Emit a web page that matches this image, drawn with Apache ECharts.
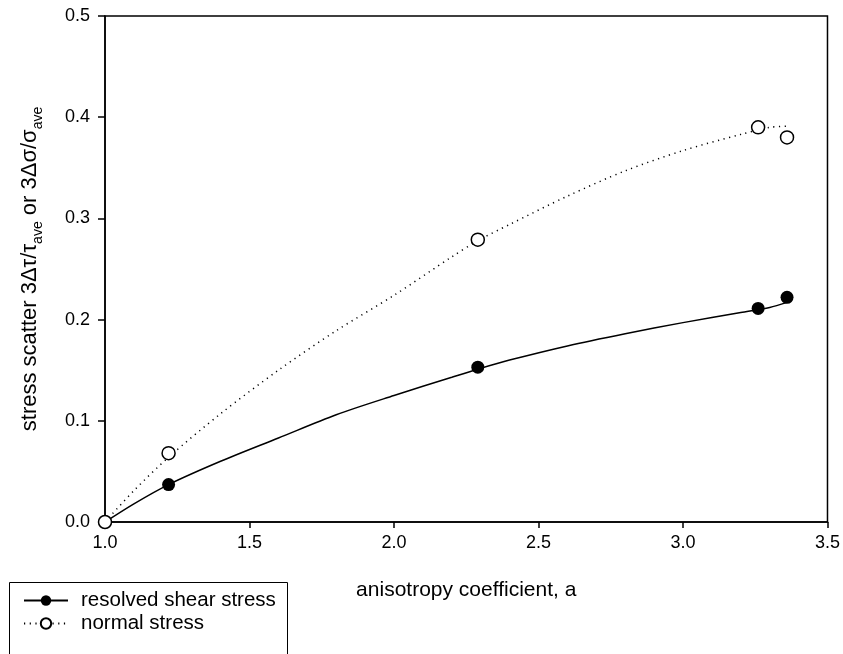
<!DOCTYPE html>
<html lang="en">
<head>
    <meta charset="UTF-8">
    <title>stress scatter</title>
    <script src="https://cdn.jsdelivr.net/npm/echarts@6.0.0/dist/echarts.min.js"></script>
    <style>
        html, body { margin: 0; padding: 0; background: #fff; }
        #chart { width: 843px; height: 654px; }
    </style>
</head>
<body>
<div id="chart"></div>
<script>
    // measured points
    var pointX = [1.0, 1.22, 2.29, 3.26, 3.36];
    var shearY = [0.0, 0.037, 0.153, 0.211, 0.222];
    var normalY = [0.0, 0.068, 0.279, 0.390, 0.380];

    // fitted curves
    var curveX = [1.0, 1.1, 1.22, 1.4, 1.6, 1.8, 2.0, 2.2, 2.29, 2.4, 2.6, 2.8, 3.0, 3.2, 3.3, 3.36];
    var shearCurveY = [0.0, 0.018, 0.037, 0.060, 0.083, 0.106, 0.125, 0.143, 0.151, 0.160, 0.174, 0.186, 0.197, 0.207, 0.212, 0.217];
    var normalCurveY = [0.0, 0.031, 0.064, 0.107, 0.150, 0.189, 0.224, 0.262, 0.278, 0.294, 0.322, 0.347, 0.367, 0.383, 0.390, 0.391];

    var xTicks = [1.0, 1.5, 2.0, 2.5, 3.0, 3.5];
    var yTicks = [0.0, 0.1, 0.2, 0.3, 0.4, 0.5];

    function pairs(xs, ys) {
        var out = [];
        for (var i = 0; i < xs.length; i++) {
            out.push([xs[i], ys[i]]);
        }
        return out;
    }

    var chart = echarts.init(document.getElementById('chart'));
    var font = 'Liberation Sans, Arial, sans-serif';

    var option = {
        animation: false,
        textStyle: { fontFamily: font, color: '#000' },
        grid: {
            left: 105, right: 15, top: 16, bottom: 132,
            show: true, borderColor: '#000', borderWidth: 1.5, backgroundColor: 'transparent'
        },
        // legend frame, runs off the bottom edge like the original
        graphic: [{
            type: 'rect', left: 7, top: 580,
            shape: { width: 278, height: 100 },
            style: { fill: 'none', stroke: '#000', lineWidth: 1 },
            silent: true
        }],
        legend: {
            data: ['resolved shear stress', 'normal stress'],
            orient: 'vertical',
            left: 7, top: 580,
            padding: [10, 5, 5, 16],
            itemWidth: 44, itemHeight: 13, itemGap: 2,
            textStyle: { fontSize: 20.5, color: '#000', fontFamily: font, padding: [0, 0, 0, 8] }
        },
        xAxis: {
            type: 'value', min: 1, max: 3.5, interval: 0.5,
            name: 'anisotropy coefficient, a',
            nameLocation: 'middle', nameGap: 58,
            nameTextStyle: { fontSize: 21, color: '#000', fontFamily: font },
            axisLine: { lineStyle: { color: '#000', width: 1.5 } },
            axisTick: { show: true, inside: false, length: 6, lineStyle: { color: '#000', width: 1.5 } },
            axisLabel: {
                fontSize: 18, color: '#000', margin: 12,
                formatter: function (v) { return xTicks.indexOf(v) >= 0 ? v.toFixed(1) : ''; }
            },
            splitLine: { show: false }
        },
        yAxis: {
            type: 'value', min: 0, max: 0.5, interval: 0.1,
            name: 'stress scatter 3\u0394\u03c4/\u03c4{s|ave} or 3\u0394\u03c3/\u03c3{s|ave}',
            nameLocation: 'middle', nameGap: 60,
            nameTextStyle: {
                fontSize: 22, color: '#000', fontFamily: font, lineHeight: 30,
                rich: {
                    s: { fontSize: 14, lineHeight: 14, verticalAlign: 'bottom', color: '#000', fontFamily: font }
                }
            },
            axisLine: { lineStyle: { color: '#000', width: 1.5 } },
            axisTick: { show: true, inside: false, length: 7, lineStyle: { color: '#000', width: 1.5 } },
            axisLabel: {
                fontSize: 18, color: '#000', margin: 15,
                formatter: function (v) {
                    for (var i = 0; i < yTicks.length; i++) {
                        if (Math.abs(yTicks[i] - v) < 1e-9) return yTicks[i].toFixed(1);
                    }
                    return '';
                }
            },
            splitLine: { show: false }
        },
        series: [
            {
                name: 'resolved shear stress',
                type: 'line',
                smooth: 0.3,
                showSymbol: false,
                symbol: 'circle', symbolSize: 12,
                itemStyle: { color: '#000', opacity: 1 },
                lineStyle: { color: '#000', width: 1.5, type: 'solid' },
                data: pairs(curveX, shearCurveY),
                z: 2
            },
            {
                name: 'normal stress',
                type: 'line',
                smooth: 0.3,
                showSymbol: false,
                symbol: 'circle', symbolSize: 12,
                itemStyle: { color: '#fff', borderColor: '#000', borderWidth: 1.5, opacity: 1 },
                lineStyle: { color: '#000', width: 1.5, type: [1.2, 4.5] },
                data: pairs(curveX, normalCurveY),
                z: 2
            },
            {
                name: 'resolved shear stress',
                type: 'scatter',
                symbol: 'circle', symbolSize: 13,
                clip: false,
                itemStyle: { color: '#000', opacity: 1 },
                data: pairs(pointX, shearY),
                z: 3
            },
            {
                name: 'normal stress',
                type: 'scatter',
                symbol: 'circle', symbolSize: 13,
                clip: false,
                itemStyle: { color: '#fff', borderColor: '#000', borderWidth: 1.5, opacity: 1 },
                data: pairs(pointX, normalY),
                z: 4
            }
        ]
    };
    chart.setOption(option);
</script>
</body>
</html>
